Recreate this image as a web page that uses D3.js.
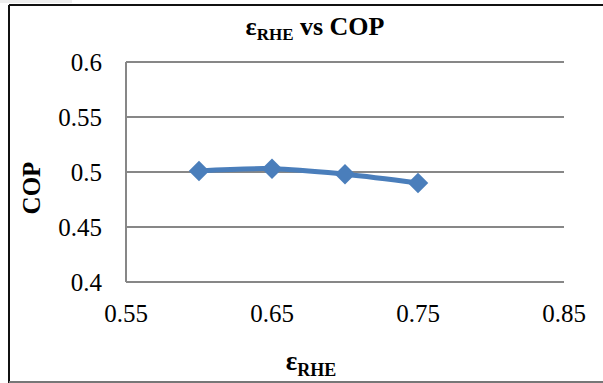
<!DOCTYPE html>
<html>
<head>
<meta charset="utf-8">
<script src="https://cdn.jsdelivr.net/npm/d3@7"></script>
<style>
  html, body { margin: 0; padding: 0; background: #fff; }
  svg { display: block; }
  text { font-family: "Liberation Serif", "Times New Roman", serif; fill: #000; }
</style>
</head>
<body>
<svg id="chart" width="603" height="383"></svg>
<script>
// data
var epsRHE = [0.6, 0.65, 0.7, 0.75];
var cop = [0.501, 0.503, 0.498, 0.490];
var xTicks = [0.55, 0.65, 0.75, 0.85];
var yTicks = [0.4, 0.45, 0.5, 0.55, 0.6];

var svg = d3.select('#chart');

// plot box (not "top": window.top is read-only)
var plotL = 126, plotR = 564, plotT = 62, plotB = 282;

var x = d3.scaleLinear().domain([0.55, 0.85]).range([plotL, plotR]);
var y = d3.scaleLinear().domain([0.4, 0.6]).range([plotB, plotT]);

// faint strip at top left, outer frame
svg.append('rect').attr('x', 0).attr('y', 0).attr('width', 72).attr('height', 3).attr('fill', '#eeeeee');
svg.append('line').attr('x1', 9).attr('x2', 603).attr('y1', 5).attr('y2', 5)
  .attr('stroke', '#111').attr('stroke-width', 2);
svg.append('line').attr('x1', 9).attr('x2', 9).attr('y1', 5).attr('y2', 383)
  .attr('stroke', '#111').attr('stroke-width', 2);
svg.append('line').attr('x1', 9).attr('x2', 603).attr('y1', 382).attr('y2', 382)
  .attr('stroke', '#777').attr('stroke-width', 2);

// gridlines
svg.append('g')
  .selectAll('line')
  .data(yTicks)
  .join('line')
  .attr('x1', plotL).attr('x2', plotR)
  .attr('y1', function(d) { return y(d); })
  .attr('y2', function(d) { return y(d); })
  .attr('stroke', '#878787').attr('stroke-width', 2);

// left axis line
svg.append('line').attr('x1', plotL).attr('x2', plotL).attr('y1', plotT).attr('y2', plotB)
  .attr('stroke', '#878787').attr('stroke-width', 2);

// tick labels
svg.append('g')
  .selectAll('text')
  .data(yTicks)
  .join('text')
  .attr('x', 102)
  .attr('y', function(d) { return y(d); })
  .attr('dy', '0.34em')
  .attr('text-anchor', 'end')
  .style('font-size', '25px')
  .text(function(d) { return d; });

svg.append('g')
  .selectAll('text')
  .data(xTicks)
  .join('text')
  .attr('x', function(d) { return x(d); })
  .attr('y', 322)
  .attr('text-anchor', 'middle')
  .style('font-size', '25px')
  .text(function(d) { return d; });

// title
var title = svg.append('text')
  .attr('x', 315).attr('y', 35)
  .attr('text-anchor', 'middle')
  .style('font-size', '26px').style('font-weight', 'bold');
title.append('tspan').text('ε');
title.append('tspan').attr('dy', 5).style('font-size', '17px').text('RHE');
title.append('tspan').attr('dy', -5).text(' vs COP');

// axis titles
var xl = svg.append('text')
  .attr('x', 311).attr('y', 370)
  .attr('text-anchor', 'middle')
  .style('font-size', '27px').style('font-weight', 'bold');
xl.append('tspan').text('ε');
xl.append('tspan').attr('dy', 6).style('font-size', '18px').text('RHE');

svg.append('text')
  .attr('transform', 'translate(40,188) rotate(-90)')
  .attr('text-anchor', 'middle')
  .style('font-size', '25px').style('font-weight', 'bold')
  .text('COP');

// series
var pts = epsRHE.map(function(d, i) { return [d, cop[i]]; });

var line = d3.line()
  .x(function(d) { return x(d[0]); })
  .y(function(d) { return y(d[1]); })
  .curve(d3.curveCatmullRom);

svg.append('path')
  .datum(pts)
  .attr('d', line)
  .attr('fill', 'none')
  .attr('stroke', '#4a7ebb')
  .attr('stroke-width', 5)
  .attr('stroke-linecap', 'round');

svg.append('g')
  .selectAll('path')
  .data(pts)
  .join('path')
  .attr('transform', function(d) { return 'translate(' + x(d[0]) + ',' + y(d[1]) + ') rotate(45)'; })
  .attr('d', d3.symbol().type(d3.symbolSquare).size(210))
  .attr('fill', '#4a7ebb');
</script>
</body>
</html>
